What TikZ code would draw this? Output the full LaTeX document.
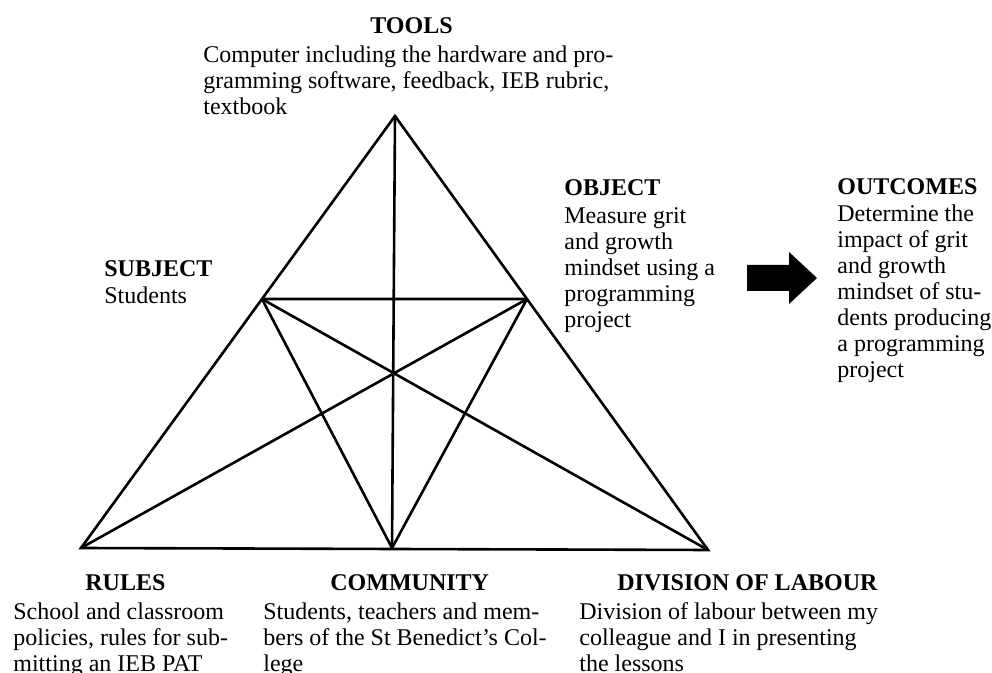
\documentclass[tikz,border=0pt]{standalone}
\usepackage{fontspec}
\setmainfont{Liberation Serif}
\usetikzlibrary{calc,positioning}
\tikzset{
  triline/.style={draw=black, line width=1.3pt},
  headlbl/.style={anchor=base west, inner sep=0pt, font=\fontsize{12}{13}\selectfont\bfseries},
  bodylbl/.style={anchor=north west, inner sep=0pt, align=left, font=\fontsize{12}{13}\selectfont},
  % ---- flecha de bloque hacia los resultados ----
  blockarr/.style={fill=black, draw=none},
}
\begin{document}
\begin{tikzpicture}[x=0.5pt, y=-0.5pt]
  \useasboundingbox (0,0) rectangle (992,673);

  % vertices
  \coordinate (tools) at (395,116);
  \coordinate (rules) at (81,548);
  \coordinate (community) at (392,548);
  \coordinate (division) at (708,550);
  \coordinate (subject) at ($(tools)!0.4236!(rules)$);
  \coordinate (object) at ($(tools)!0.4217!(division)$);

  \draw[triline] (tools) -- (rules) -- (division) -- cycle;
  \draw[triline] (tools) -- (community);
  \draw[triline] (subject) -- (object);
  \draw[triline] (subject) -- (community);
  \draw[triline] (subject) -- (division);
  \draw[triline] (object) -- (community);
  \draw[triline] (object) -- (rules);

  % labels
  \node[headlbl] (toolsH) at (370,34) {TOOLS};
  \node[bodylbl] (toolsB) at (203,44) {\strut Computer including the hardware and pro-\\gramming software, feedback, IEB rubric,\\textbook};

  \node[headlbl] (subjectH) at (104,277) {SUBJECT};
  \node[bodylbl] (subjectB) at (104,285) {\strut Students};

  \node[headlbl] (objectH) at (564,196) {OBJECT};
  \node[bodylbl] (objectB) at (564,205) {\strut Measure grit\\and growth\\mindset using a\\programming\\project};

  \node[headlbl] (outH) at (837,195) {OUTCOMES};
  \node[bodylbl] (outB) at (837,203) {\strut Determine the\\impact of grit\\and growth\\mindset of stu-\\dents producing\\a programming\\project};

  \node[headlbl] (rulesH) at (85,591) {RULES};
  \node[bodylbl] (rulesB) at (13,601) {\strut School and classroom\\policies, rules for sub-\\mitting an IEB PAT};

  \node[headlbl] (commH) at (330,591) {COMMUNITY};
  \node[bodylbl] (commB) at (263,601) {\strut Students, teachers and mem-\\bers of the St Benedict’s Col-\\lege};

  \node[headlbl] (divH) at (617,591) {DIVISION OF LABOUR};
  \node[bodylbl] (divB) at (579,601) {\strut Division of labour between my\\colleague and I in presenting\\the lessons};

  % arrow
  \fill[blockarr] (747,265) -- (789,265) -- (789,252) -- (817,278)
    -- (789,304) -- (789,291) -- (747,291) -- cycle;
\end{tikzpicture}
\end{document}
